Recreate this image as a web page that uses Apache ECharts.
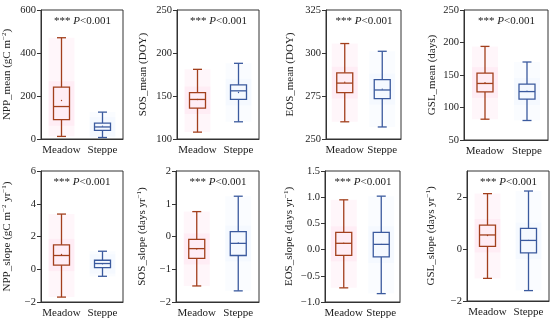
<!DOCTYPE html>
<html><head><meta charset="utf-8">
<script src="https://cdn.jsdelivr.net/npm/echarts@6/dist/echarts.min.js"></script>
<style>html,body{margin:0;padding:0;background:#fff}#c{width:550px;height:323px}</style>
</head><body><div id="c"></div>
<script>
const categories = ['Meadow', 'Steppe'];
// [min, Q1, median, Q3, max, mean]
const nppMeanMeadow = [12, 90, 151, 241, 471, 179];
const nppMeanSteppe = [7, 40, 56, 74, 125, 60];
const sosMeanMeadow = [108, 136, 146, 154, 181, 146];
const sosMeanSteppe = [120, 146, 156, 163, 188, 154];
const eosMeanMeadow = [260, 277, 282.5, 288.5, 305.5, 283];
const eosMeanSteppe = [257, 273.5, 278.5, 284.5, 301, 279];
const gslMeanMeadow = [82, 124, 137, 153, 194, 138];
const gslMeanSteppe = [80, 113, 124.5, 136, 170, 125];
const nppSlopeMeadow = [-1.7, 0.25, 0.84, 1.49, 3.37, 0.9];
const nppSlopeSteppe = [-0.43, 0.1, 0.35, 0.55, 1.1, 0.34];
const sosSlopeMeadow = [-1.51, -0.67, -0.37, -0.09, 0.76, -0.38];
const sosSlopeSteppe = [-1.66, -0.58, -0.21, 0.15, 1.23, -0.2];
const eosSlopeMeadow = [-0.73, -0.11, 0.12, 0.33, 0.95, 0.12];
const eosSlopeSteppe = [-0.84, -0.14, 0.10, 0.33, 1.02, 0.10];
const gslSlopeMeadow = [-1.13, 0.10, 0.54, 0.92, 2.13, 0.52];
const gslSlopeSteppe = [-1.6, -0.15, 0.33, 0.79, 2.23, 0.33];

const yNames = ['NPP_mean (gC m{s|−2})', 'SOS_mean (DOY)', 'EOS_mean (DOY)', 'GSL_mean (days)',
  'NPP_slope (gC m{s|−2} yr{s|−1})', 'SOS_slope (days yr{s|−1})', 'EOS_slope (days yr{s|−1})', 'GSL_slope (days yr{s|−1})'];
const yMins = [0, 100, 250, 50, -2, -2, -1, -2];
const yMaxs = [600, 250, 325, 250, 6, 2, 1.5, 3];
const yIntervals = [200, 50, 25, 50, 2, 1, 0.5, 2];

const panels = [
  [nppMeanMeadow, nppMeanSteppe], [sosMeanMeadow, sosMeanSteppe], [eosMeanMeadow, eosMeanSteppe], [gslMeanMeadow, gslMeanSteppe],
  [nppSlopeMeadow, nppSlopeSteppe], [sosSlopeMeadow, sosSlopeSteppe], [eosSlopeMeadow, eosSlopeSteppe], [gslSlopeMeadow, gslSlopeSteppe]
];

// layout
const grids = [
  {left: 41, top: 10, width: 82, height: 129},
  {left: 177, top: 10, width: 82, height: 129},
  {left: 326, top: 10, width: 75, height: 129},
  {left: 464, top: 10, width: 84, height: 130},
  {left: 40, top: 171, width: 83, height: 131},
  {left: 176, top: 171, width: 83, height: 131},
  {left: 325, top: 171, width: 75, height: 131},
  {left: 467, top: 171, width: 82, height: 130}
];
const nameGaps = [27, 27, 29, 25, 27, 27, 29, 29];
const FONT = 'Liberation Serif';
const strokeColors = ['#a23f1c', '#3b5a9e'];
const shadeColors = ['rgba(255,150,200,0.09)', 'rgba(170,200,255,0.06)'];
const axisColor = '#333';

function fmt(i) {
  return function (v) {
    let s = yIntervals[i] < 1 ? v.toFixed(1) : String(Math.round(v));
    return s.replace('-', '−');
  };
}

function renderBox(params, api) {
  const ci = api.value(0);
  const vals = [api.value(1), api.value(2), api.value(3), api.value(4), api.value(5), api.value(6)];
  const col = strokeColors[ci];
  const pts = vals.map(v => api.coord([ci, v]));
  const x = pts[0][0];
  const bw = 16, cw = 9, sw = 26;
  const st = {stroke: col, lineWidth: 1.3, fill: null};
  const ch = [];
  // shading
  ch.push({type: 'rect', shape: {x: x - sw / 2, y: pts[4][1], width: sw, height: pts[0][1] - pts[4][1]}, style: {fill: shadeColors[ci]}});
  ch.push({type: 'rect', shape: {x: x - sw / 2, y: pts[3][1] - 6, width: sw, height: pts[1][1] - pts[3][1] + 12}, style: {fill: shadeColors[ci]}});
  // whiskers
  ch.push({type: 'line', shape: {x1: x, y1: pts[0][1], x2: x, y2: pts[1][1]}, style: st});
  ch.push({type: 'line', shape: {x1: x, y1: pts[3][1], x2: x, y2: pts[4][1]}, style: st});
  ch.push({type: 'line', shape: {x1: x - cw / 2, y1: pts[0][1], x2: x + cw / 2, y2: pts[0][1]}, style: st});
  ch.push({type: 'line', shape: {x1: x - cw / 2, y1: pts[4][1], x2: x + cw / 2, y2: pts[4][1]}, style: st});
  // box
  ch.push({type: 'rect', shape: {x: x - bw / 2, y: pts[3][1], width: bw, height: pts[1][1] - pts[3][1]}, style: st});
  ch.push({type: 'line', shape: {x1: x - bw / 2, y1: pts[2][1], x2: x + bw / 2, y2: pts[2][1]}, style: st});
  // mean
  ch.push({type: 'circle', shape: {cx: x, cy: pts[5][1], r: 0.7}, style: {fill: col}});
  return {type: 'group', children: ch};
}

const option = {
  animation: false,
  backgroundColor: '#fff',
  textStyle: {fontFamily: FONT},
  grid: grids.map(g => Object.assign({show: true, borderColor: axisColor, borderWidth: 1, backgroundColor: 'transparent'}, g)),
  xAxis: grids.map((g, i) => ({
    type: 'category', gridIndex: i, data: categories, boundaryGap: true,
    axisLine: {onZero: false, lineStyle: {color: axisColor, width: 1}},
    axisTick: {alignWithLabel: true, length: 4, lineStyle: {color: axisColor}},
    axisLabel: {fontFamily: FONT, fontSize: 11, color: '#222', margin: 6, interval: 0},
    splitLine: {show: false}
  })),
  yAxis: grids.map((g, i) => ({
    type: 'value', gridIndex: i, min: yMins[i], max: yMaxs[i], interval: yIntervals[i],
    name: yNames[i], nameLocation: 'middle', nameRotate: 90, nameGap: nameGaps[i],
    nameTextStyle: {fontFamily: FONT, fontSize: 11, color: '#222', lineHeight: 13,
      rich: {s: {fontFamily: FONT, fontSize: 7, color: '#222', verticalAlign: 'top', lineHeight: 7}}},
    axisLine: {show: true, onZero: false, lineStyle: {color: axisColor, width: 1}},
    axisTick: {show: true, length: 4, lineStyle: {color: axisColor}},
    axisLabel: {fontFamily: FONT, fontSize: 10.5, color: '#222', margin: 5, formatter: fmt(i), showMaxLabel: i === 7 ? false : null},
    splitLine: {show: false}
  })),
  series: panels.map((p, i) => ({
    type: 'custom', xAxisIndex: i, yAxisIndex: i,
    renderItem: renderBox,
    encode: {x: 0, y: [1, 2, 3, 4, 5, 6]},
    data: p.map((arr, ci) => [ci].concat(arr))
  })),
  graphic: grids.map(g => ({
    type: 'text', left: g.left + g.width / 2 - 28, top: g.top + 6,
    style: {text: '{a|*** }{p|P}{a|<0.001}', rich: {
      a: {fontFamily: FONT, fontSize: 11, fill: '#222'},
      p: {fontFamily: FONT, fontSize: 11, fontStyle: 'italic', fill: '#222'}
    }}
  }))
};
const chart = echarts.init(document.getElementById('c'), null, {renderer: 'canvas'});
chart.setOption(option);
</script></body></html>
